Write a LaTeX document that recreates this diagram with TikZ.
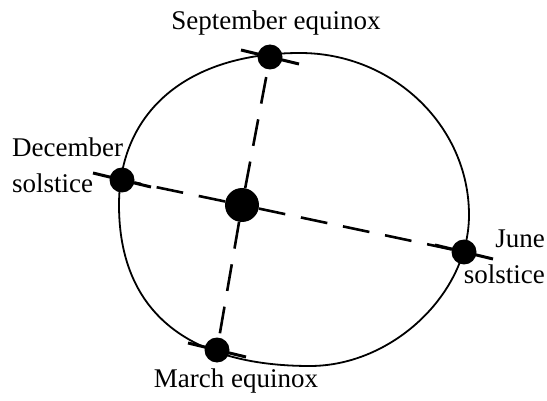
\documentclass[tikz,border=0pt]{standalone}
\usepackage{fontspec}
\setmainfont{Liberation Serif}
\begin{document}
\begin{tikzpicture}[x=1pt,y=-1pt,
  planet/.style={circle,fill=black,inner sep=0pt,minimum size=25pt},
  sunball/.style={circle,fill=black,inner sep=0pt,minimum size=34pt},
  orbitline/.style={line width=1.8pt},
  axisline/.style={line width=3pt},
  dashline/.style={line width=2.6pt,dash pattern=on 27pt off 16pt},
  lbl/.style={font=\fontsize{27}{36}\selectfont,inner sep=0pt}]
\useasboundingbox (0,0) rectangle (547,401);
\fill[white] (0,0) rectangle (547,401);
% orbit
\coordinate (oT) at (300,53);
\coordinate (oR) at (469,215);
\coordinate (oB) at (310,366);
\coordinate (oL) at (119,205);
\draw[orbitline] (oT) .. controls (393,53) and (469,126) .. (oR)
  .. controls (469,294) and (392,366) .. (oB)
  .. controls (186,366) and (119,310) .. (oL)
  .. controls (119,111) and (188,53) .. (oT) -- cycle;
% bodies
\node[sunball] (sun) at (242,205) {};
\node[planet] (sep) at (270,57) {};
\node[planet] (dec) at (122,180) {};
\node[planet] (june) at (464,252) {};
\node[planet] (march) at (217,350) {};
% dashed lines
\draw[dashline] (sun) -- (dec);
\draw[dashline] (sun) -- (june);
\draw[dashline] (sun) -- (sep);
\draw[dashline] (sun) -- (march);
% axes
\foreach \p in {sep,dec,june,march}{
  \draw[axisline] ([shift={(-29,-7)}]\p.center) -- ([shift={(29,7)}]\p.center);
}
% labels
\node[lbl] (tsep) at (276,23) {September equinox};
\node[lbl,align=left,anchor=west] (tdec) at (12,165) {December\\solstice};
\node[lbl,align=right,anchor=east] (tjune) at (545,257) {June\\solstice};
\node[lbl] (tmarch) at (236,381) {March equinox};
\end{tikzpicture}
\end{document}
